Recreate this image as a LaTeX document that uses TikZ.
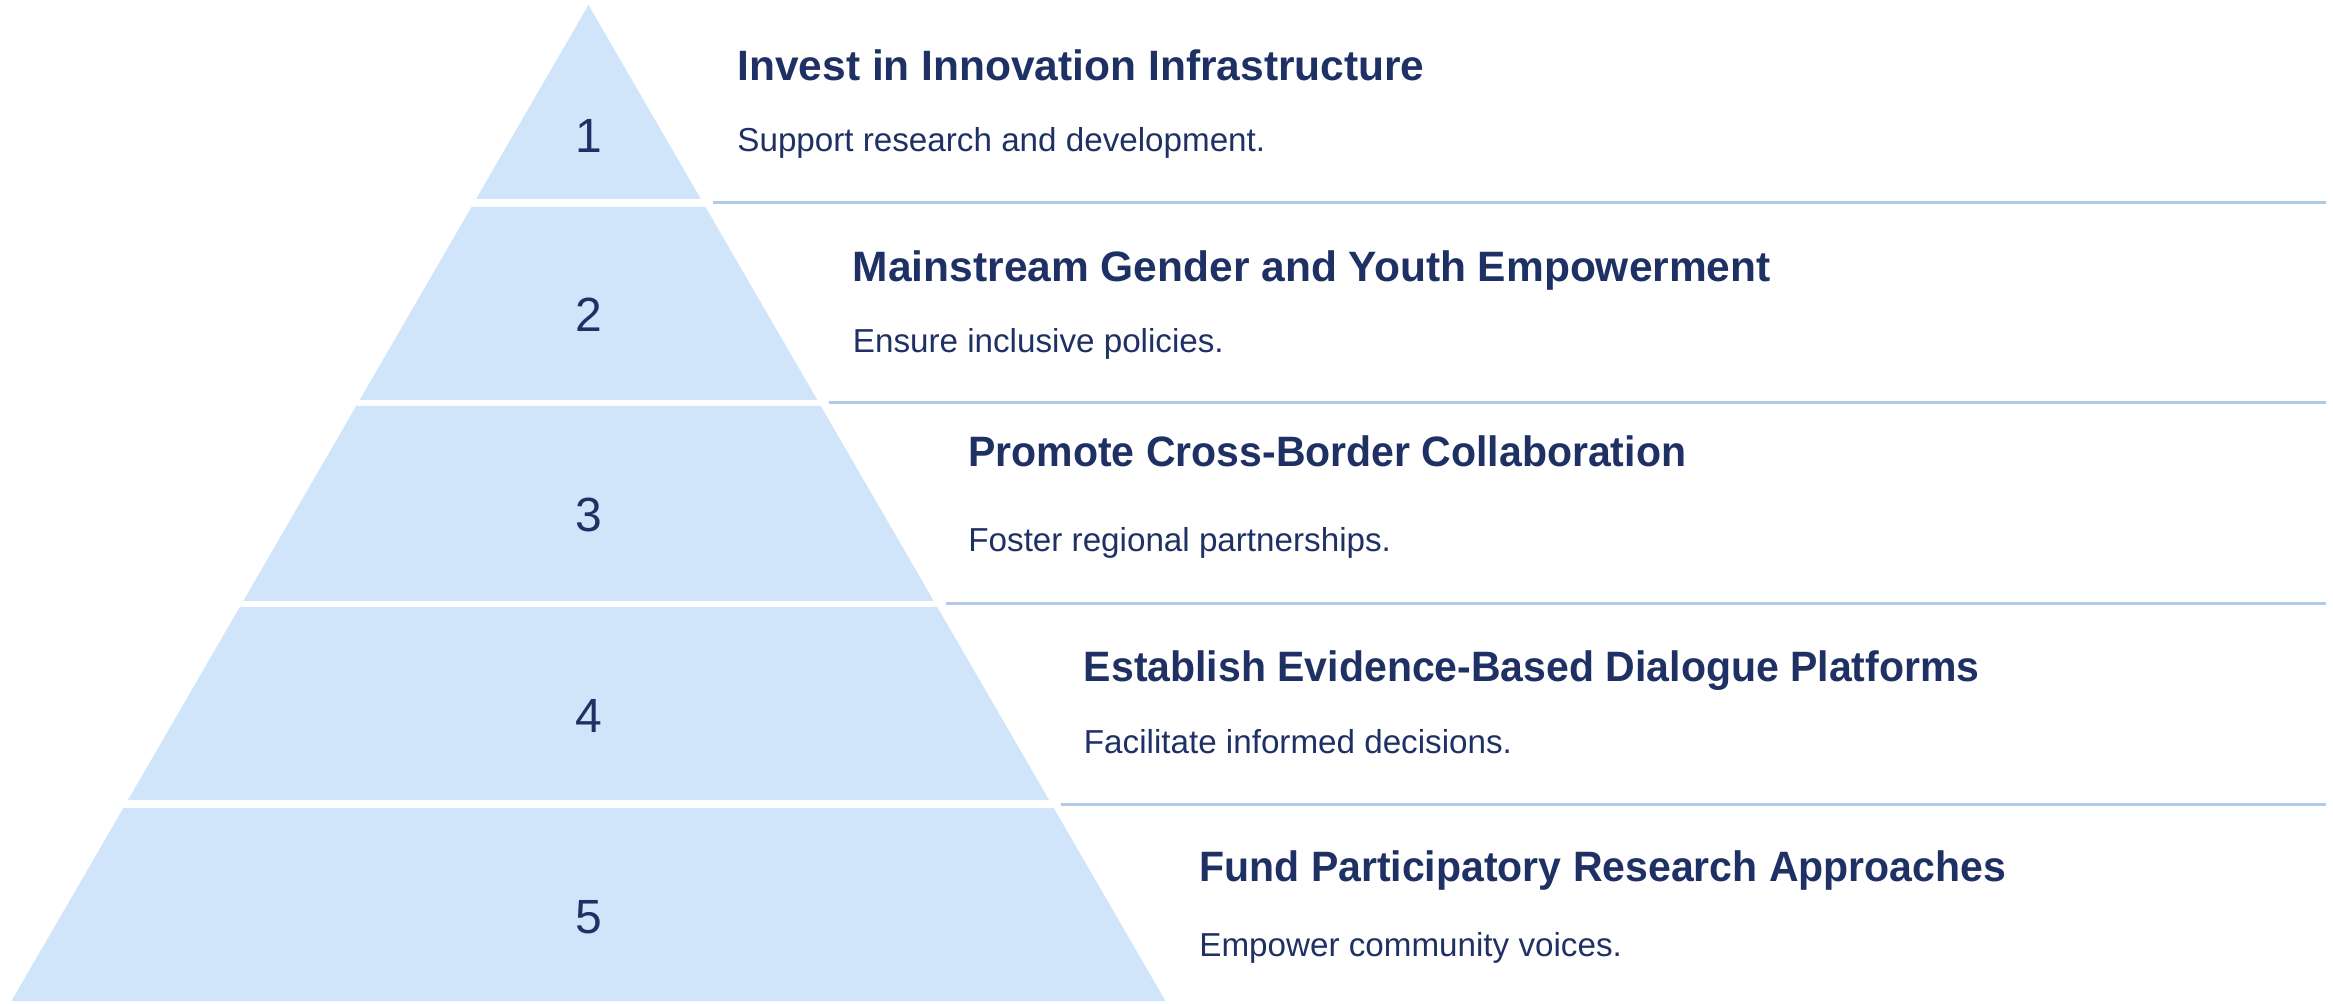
\documentclass[tikz,border=0pt]{standalone}
\usepackage{fontspec}
\setmainfont{Liberation Sans}
\usepackage{xcolor}
\usetikzlibrary{calc,positioning}
\definecolor{tierblue}{RGB}{208,228,250}
\definecolor{ruleblue}{RGB}{178,202,230}
\definecolor{inkblue}{RGB}{31,49,100}
\newcommand{\narrowtitle}[1]{\scalebox{0.965}[1]{#1}}
\tikzset{
  tier/.style={fill=tierblue, draw=none},
  sepline/.style={draw=ruleblue, line width=1.5pt},
  tiernum/.style={anchor=base, inner sep=0pt, text=inkblue, font=\fontsize{24pt}{28pt}\selectfont},
  tiertitle/.style={anchor=base west, inner sep=0pt, text=inkblue, font=\bfseries\fontsize{21.25pt}{25pt}\selectfont},
  tierdesc/.style={anchor=base west, inner sep=0pt, text=inkblue, font=\fontsize{16.6pt}{20pt}\selectfont}
}
\begin{document}
\begin{tikzpicture}[x=0.5pt,y=-0.5pt]
    \useasboundingbox (0,0) rectangle (2333,1004);
    % pyramid
    \coordinate (apex) at (588.5,5);
    \fill[tier] (apex) -- ({588.5-194*0.5793},199) -- ({588.5+194*0.5793},199) -- cycle;
    \foreach \k/\top/\bot in {2/207/400, 3/406/601, 4/607/800, 5/808/1001}{
      \fill[tier] ({588.5-(\top-5)*0.5793},\top) -- ({588.5+(\top-5)*0.5793},\top)
        -- ({588.5+(\bot-5)*0.5793},\bot) -- ({588.5-(\bot-5)*0.5793},\bot) -- cycle;
    }
    % separators
    \foreach \k/\y in {1/203, 2/403, 3/604, 4/804}{
      \coordinate (s\k) at ({588.5+(\y-5)*0.5793+10},\y);
      \coordinate (e\k) at (2326,\y);
      \draw[sepline] (s\k) -- (e\k);
    }
    % numbers
    \node[tiernum] (n1) at (589,153) {1};
    \node[tiernum] (n2) at (589,331.5) {2};
    \node[tiernum] (n3) at (589,532) {3};
    \node[tiernum] (n4) at (589,732.5) {4};
    \node[tiernum] (n5) at (589,933) {5};
    % titles and descriptions
    \node[tiertitle] (t1) at (737,81) {Invest in Innovation Infrastructure};
    \node[tierdesc] (d1) at (737,152) {Support research and development.};
    \node[tiertitle] (t2) at (852.5,282) {Mainstream Gender and Youth Empowerment};
    \node[tierdesc] (d2) at (852.5,353) {Ensure inclusive policies.};
    \node[tiertitle] (t3) at (968,467) {\narrowtitle{Promote Cross-Border Collaboration}};
    \node[tierdesc] (d3) at (968,552) {Foster regional partnerships.};
    \node[tiertitle] (t4) at (1083.5,682) {\narrowtitle{Establish Evidence-Based Dialogue Platforms}};
    \node[tierdesc] (d4) at (1083.5,753) {Facilitate informed decisions.};
    \node[tiertitle] (t5) at (1199,881) {\narrowtitle{Fund Participatory Research Approaches}};
    \node[tierdesc] (d5) at (1199,956) {Empower community voices.};
\end{tikzpicture}
\end{document}
